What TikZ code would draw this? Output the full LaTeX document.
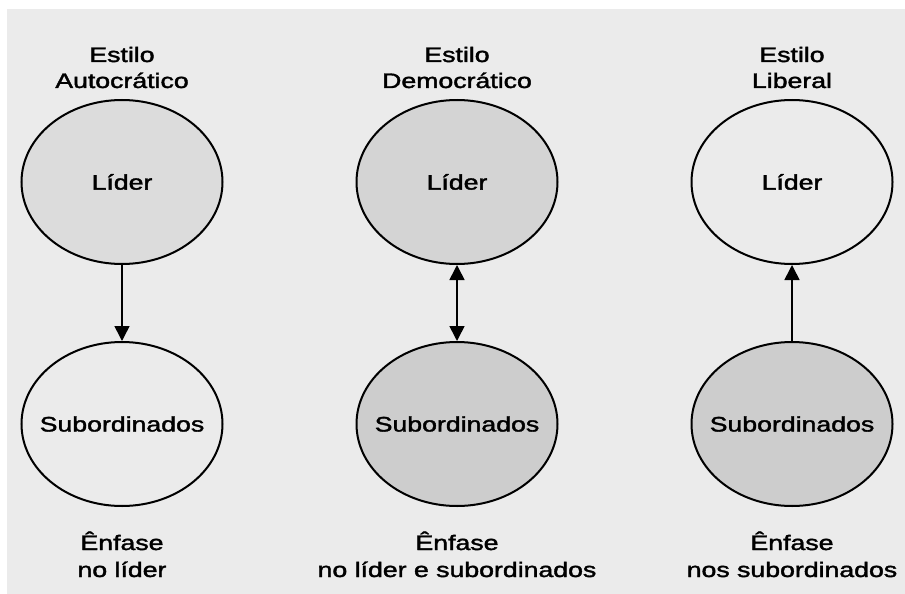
\documentclass[tikz,border=0pt]{standalone}
\usepackage{fontspec}
\setmainfont{Liberation Sans}[FakeBold=1.6]
\usepackage{graphicx}
\usetikzlibrary{shapes.geometric,arrows.meta}
\newcommand{\wide}[1]{\scalebox{1.27}[1]{#1}}
\newcommand{\inside}[1]{\makebox[0pt]{\wide{#1}}}
\definecolor{bggray}{HTML}{EBEBEB}
\definecolor{shadeA}{HTML}{DCDCDC}
\definecolor{shadeB}{HTML}{D4D4D4}
\definecolor{shadeC}{HTML}{CDCDCD}
\tikzset{
  bubble/.style={ellipse, draw=black, line width=2pt, minimum width=201pt, minimum height=164pt, inner sep=0pt, font=\fontsize{21}{25}\selectfont},
  lbl/.style={anchor=base, inner sep=0pt, font=\fontsize{21}{25}\selectfont},
  arr/.style={line width=1.6pt, -{Triangle[length=15pt,width=15pt]}},
  darr/.style={line width=1.6pt, {Triangle[length=15pt,width=15pt]}-{Triangle[length=15pt,width=15pt]}}
}
\begin{document}
\begin{tikzpicture}[x=1pt,y=-1pt]
\useasboundingbox (0,0) rectangle (905,594);
\fill[white] (0,0) rectangle (905,594);
\fill[bggray] (7,9) rectangle (905,594);
% titles
\node[lbl] (t1a) at (122,62) {\wide{Estilo}};
\node[lbl] (t1b) at (122,88) {\wide{Autocrático}};
\node[lbl] (t2a) at (457,62) {\wide{Estilo}};
\node[lbl] (t2b) at (457,88) {\wide{Democrático}};
\node[lbl] (t3a) at (792,62) {\wide{Estilo}};
\node[lbl] (t3b) at (792,88) {\wide{Liberal}};
% ellipses
\node[bubble, fill=shadeA] (L1) at (122,182) {\inside{Líder}};
\node[bubble, fill=shadeB] (L2) at (457,182) {\inside{Líder}};
\node[bubble, fill=bggray] (L3) at (792,182) {\inside{Líder}};
\node[bubble, fill=bggray] (S1) at (122,424) {\raisebox{-3pt}{\inside{Subordinados}}};
\node[bubble, fill=shadeC] (S2) at (457,424) {\raisebox{-3pt}{\inside{Subordinados}}};
\node[bubble, fill=shadeC] (S3) at (792,424) {\raisebox{-3pt}{\inside{Subordinados}}};
% connectors
\draw[arr] (L1.south) -- (S1.north);
\draw[darr] (L2.south) -- (S2.north);
\draw[arr] (S3.north) -- (L3.south);
% bottom labels
\node[lbl] (e1a) at (122,550) {\wide{Ênfase}};
\node[lbl] (e1b) at (122,577) {\wide{no líder}};
\node[lbl] (e2a) at (457,550) {\wide{Ênfase}};
\node[lbl] (e2b) at (457,577) {\wide{no líder e subordinados}};
\node[lbl] (e3a) at (792,550) {\wide{Ênfase}};
\node[lbl] (e3b) at (792,577) {\wide{nos subordinados}};
\end{tikzpicture}
\end{document}
